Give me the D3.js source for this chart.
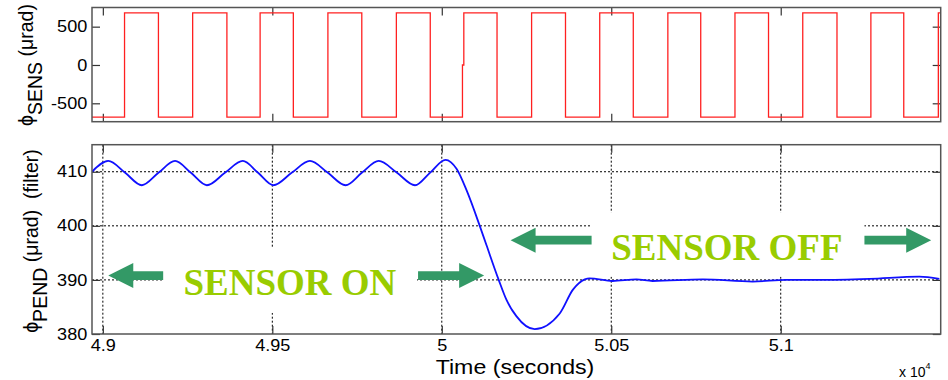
<!DOCTYPE html>
<html>
<head>
<meta charset="utf-8">
<script src="https://cdn.jsdelivr.net/npm/d3@7"></script>
<style>
  body { margin: 0; background: #fff; }
  svg { display: block; }
</style>
</head>
<body>
<script>
const width = 948;
const height = 380;

// time axis (seconds), labelled in units of 1e4
const timeDomain = [48968, 51472];
const timeTicks = [49000, 49500, 50000, 50500, 51000];

// top panel: sensor square wave (step breakpoints)
const sensTicks = [-500, 0, 500];
const sensTimes = [48968, 49064, 49164, 49265, 49366, 49464, 49562, 49664, 49764, 49866,
  49966, 50061, 50065, 50163, 50265, 50365, 50466, 50565, 50667, 50764, 50865, 50964,
  51065, 51166, 51266, 51363, 51465, 51472];
const sensValues = [-680, 680, -680, 680, -680, 680, -680, 680, -680, 680,
  -680, 0, 680, -680, 680, -680, 680, -680, 680, -680, 680, -680,
  680, -680, 680, -680, 680, 680];

// bottom panel: filtered pendulum angle
const pendTicks = [380, 390, 400, 410];
const pendTimes = [48968, 49016, 49066, 49115, 49164, 49213, 49260, 49307, 49360, 49413,
  49458, 49503, 49557, 49611, 49664, 49716, 49764, 49814, 49868, 49921, 49965, 50011,
  50044, 50073, 50112, 50132, 50168, 50191, 50220, 50274, 50348, 50387, 50422, 50436,
  50504, 50574, 50622, 50770, 50917, 51016, 51115, 51262, 51409, 51468];
const pendValues = [410, 412, 409.8, 407.5, 409.8, 412, 409.8, 407.5, 409.8, 412,
  409.8, 407.5, 409.8, 412, 409.8, 407.5, 409.8, 412, 409.8, 407.5, 409.8, 412.2,
  410.5, 406.6, 400, 396.4, 390, 386.3, 383.3, 380.9, 383.8, 388.2, 390.1, 390.3,
  389.8, 390.1, 389.8, 390.1, 389.7, 390, 390, 390.2, 390.6, 390.2];

// annotations in data coordinates
const boxes = [
  { t0: 49178, t1: 49927, v0: 395.9, v1: 383.9 },
  { t0: 50442, t1: 51247, v0: 402.5, v1: 390.6 }
];
const labels = [
  { text: "SENSOR ON", t: 49238, v: 387.2 },
  { text: "SENSOR OFF", t: 50500, v: 393.7 }
];
const arrows = [
  { from: 49178, to: 49016, v: 390.8 },
  { from: 49930, to: 50125, v: 390.8 },
  { from: 50442, to: 50203, v: 397.35 },
  { from: 51247, to: 51444, v: 397.35 }
];

const left = 92, right = 940.7;
const topPanel = { y0: 7.5, y1: 121.7 };
const botPanel = { y0: 144.7, y1: 334 };
const stretch = "scale(1.13,1)";

const x = d3.scaleLinear().domain(timeDomain).range([left, right]);
const ySens = d3.scaleLinear().domain([-740, 750]).range([topPanel.y1, topPanel.y0]);
const yPend = d3.scaleLinear().domain([380, 415]).range([botPanel.y1, botPanel.y0]);

const svg = d3.select("body").append("svg")
  .attr("width", width)
  .attr("height", height)
  .attr("font-family", "'Liberation Sans', Arial, sans-serif");

const defs = svg.append("defs");
[["clipTop", topPanel], ["clipBot", botPanel]].forEach(([id, p]) => {
  defs.append("clipPath").attr("id", id)
    .append("rect").attr("x", left).attr("y", p.y0)
    .attr("width", right - left).attr("height", p.y1 - p.y0);
});

function frameAxes(y, p, ticks, xLabels) {
  const g = svg.append("g");
  g.append("g").attr("transform", `translate(${left},0)`)
    .call(d3.axisLeft(y).tickValues(ticks).tickSize(-8).tickPadding(4.2)
      .tickFormat(d => String(d)));
  g.append("g").attr("transform", `translate(${right},0)`)
    .call(d3.axisRight(y).tickValues(ticks).tickSize(-8).tickFormat(""));
  g.append("g").attr("transform", `translate(0,${p.y1})`)
    .call(d3.axisBottom(x).tickValues(timeTicks).tickSize(-8).tickPadding(6)
      .tickFormat(d => xLabels ? String(d / 1e4) : ""));
  g.append("g").attr("transform", `translate(0,${p.y0})`)
    .call(d3.axisTop(x).tickValues(timeTicks).tickSize(-8).tickFormat(""));
  g.selectAll(".domain").remove();
  g.selectAll(".tick line").attr("stroke", "#333").attr("stroke-width", 1.2);
  g.selectAll(".tick text").attr("font-size", 16).attr("fill", "#000")
    .attr("font-family", "'Liberation Sans', Arial, sans-serif")
    .attr("transform", stretch);
  return g;
}

// ---- top panel
frameAxes(ySens, topPanel, sensTicks, false);

svg.append("path")
  .datum(d3.zip(sensTimes, sensValues))
  .attr("clip-path", "url(#clipTop)")
  .attr("fill", "none")
  .attr("stroke", "#ff2020")
  .attr("stroke-width", 1.3)
  .attr("d", d3.line().x(d => x(d[0])).y(d => ySens(d[1])).curve(d3.curveStepAfter));

svg.append("rect")
  .attr("x", left).attr("y", topPanel.y0)
  .attr("width", right - left).attr("height", topPanel.y1 - topPanel.y0)
  .attr("fill", "none").attr("stroke", "#555").attr("stroke-width", 1.5);

// ---- bottom panel
const grid = svg.append("g")
  .attr("stroke", "#000").attr("stroke-width", 1).attr("stroke-dasharray", "2,2");
grid.selectAll("line.h").data(pendTicks.filter(d => d > 380)).join("line")
  .attr("x1", left).attr("x2", right)
  .attr("y1", d => yPend(d)).attr("y2", d => yPend(d));
grid.selectAll("line.v").data(timeTicks).join("line")
  .attr("y1", botPanel.y0).attr("y2", botPanel.y1)
  .attr("x1", d => x(d)).attr("x2", d => x(d));

frameAxes(yPend, botPanel, pendTicks, true);

svg.append("g").attr("fill", "#fff")
  .selectAll("rect").data(boxes).join("rect")
  .attr("x", d => x(d.t0)).attr("y", d => yPend(d.v0))
  .attr("width", d => x(d.t1) - x(d.t0)).attr("height", d => yPend(d.v1) - yPend(d.v0));

svg.append("path")
  .datum(d3.zip(pendTimes, pendValues))
  .attr("clip-path", "url(#clipBot)")
  .attr("fill", "none")
  .attr("stroke", "#1010ff")
  .attr("stroke-width", 1.8)
  .attr("d", d3.line().x(d => x(d[0])).y(d => yPend(d[1])).curve(d3.curveMonotoneX));

svg.append("rect")
  .attr("x", left).attr("y", botPanel.y0)
  .attr("width", right - left).attr("height", botPanel.y1 - botPanel.y0)
  .attr("fill", "none").attr("stroke", "#555").attr("stroke-width", 1.5);

// arrows
function arrowPath(d) {
  const x0 = x(d.from), x1 = x(d.to), y = yPend(d.v);
  const dir = Math.sign(x1 - x0);
  const hb = x1 - dir * 25;
  const s = 4.4, h = 12.5;
  return `M${x0},${y - s}L${hb},${y - s}L${hb},${y - h}L${x1},${y}` +
    `L${hb},${y + h}L${hb},${y + s}L${x0},${y + s}Z`;
}
svg.append("g").attr("fill", "#339966")
  .selectAll("path").data(arrows).join("path")
  .attr("d", arrowPath);

svg.append("g")
  .attr("font-family", "'Liberation Serif', 'Times New Roman', serif")
  .attr("font-weight", "bold")
  .attr("font-size", 37)
  .attr("fill", "#99cc00")
  .selectAll("text").data(labels).join("text")
  .attr("x", d => x(d.t)).attr("y", d => yPend(d.v))
  .text(d => d.text);

// ---- axis titles
svg.append("text")
  .attr("transform", `translate(515,374) ${stretch}`)
  .attr("text-anchor", "middle")
  .attr("font-size", 20.5)
  .text("Time (seconds)");

const expo = svg.append("text")
  .attr("x", 899).attr("y", 377)
  .attr("font-size", 14);
expo.append("tspan").text("x 10");
expo.append("tspan").attr("dy", -8).attr("font-size", 9).text("4");

function yTitle(cx, cy, sub, rest) {
  const t = svg.append("text")
    .attr("transform", `translate(${cx},${cy}) rotate(-90)`)
    .attr("text-anchor", "middle")
    .attr("font-size", 19.5);
  t.append("tspan").text("\u03d5");
  t.append("tspan").attr("dy", 9).text(sub);
  t.append("tspan").attr("dy", -9).text(rest);
}
yTitle(33, 65, "SENS", "\u00a0(\u03bcrad)");
yTitle(38, 241, "PEND", "\u00a0(\u03bcrad)\u00a0\u00a0(filter)");
</script>
</body>
</html>
